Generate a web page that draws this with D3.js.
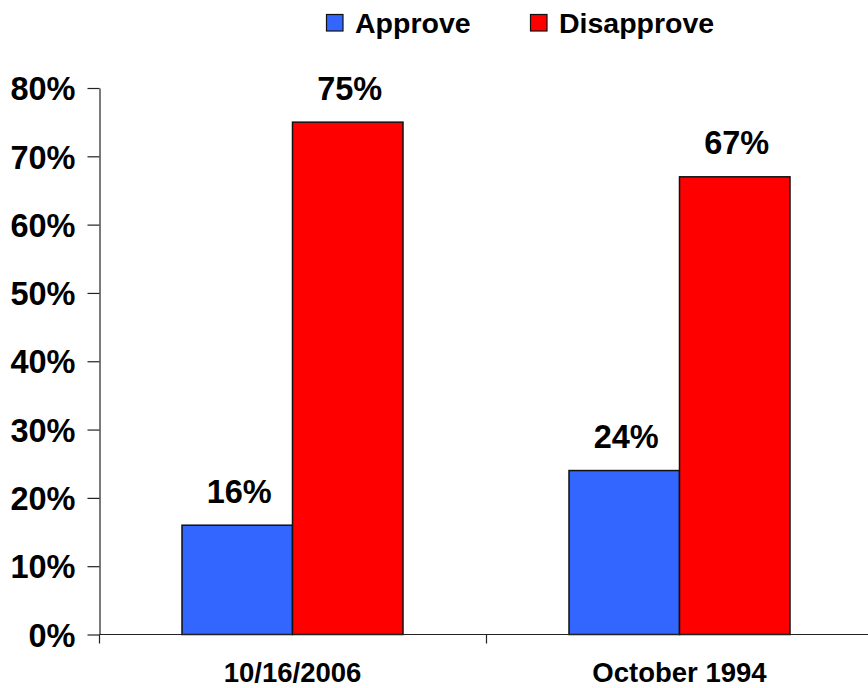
<!DOCTYPE html>
<html>
<head>
<meta charset="utf-8">
<script src="https://cdn.jsdelivr.net/npm/d3@7"></script>
<style>
  html, body { margin: 0; padding: 0; background: #fff; }
  svg { display: block; font-family: "Liberation Sans", Arial, sans-serif; font-weight: bold; }
</style>
</head>
<body>
<svg id="chart" width="868" height="688"></svg>
<script>
const categories = ["10/16/2006", "October 1994"];
const seriesNames = ["Approve", "Disapprove"];
const approve = [0.16, 0.24];
const disapprove = [0.75, 0.67];
const yTicks = [0, 0.1, 0.2, 0.3, 0.4, 0.5, 0.6, 0.7, 0.8];
const colors = ["#3366FF", "#FF0000"];

const svg = d3.select("#chart");
const x = d3.scaleBand().domain(categories).range([99, 873]).padding(0);
const y = d3.scaleLinear().domain([0, 0.8]).range([634.5, 88]);
const barW = 110.5;

const data = categories.map((c, i) => ({ cat: c, values: [approve[i], disapprove[i]] }));

// y axis
const yAxis = d3.axisLeft(y).tickValues(yTicks).tickFormat(d3.format(".0%")).tickSize(12).tickSizeOuter(0).tickPadding(12);
const gy = svg.append("g").attr("transform", "translate(99.5,0)").call(yAxis);
gy.selectAll("path, line").attr("stroke", "#222").attr("stroke-width", 1.2);
gy.selectAll("text").attr("font-size", 32.5).attr("font-weight", "bold").attr("fill", "#000")
  .attr("font-family", "'Liberation Sans', Arial, sans-serif").attr("dy", "0.36em");

// bars
const groups = svg.append("g").selectAll("g").data(data).join("g");
groups.selectAll("rect").data(d => d.values.map((v, j) => ({ v, j, cat: d.cat })))
  .join("rect")
  .attr("x", d => x(d.cat) + x.bandwidth() / 2 + (d.j - 1) * barW)
  .attr("width", barW)
  .attr("y", d => y(d.v))
  .attr("height", d => y(0) - y(d.v))
  .attr("fill", d => colors[d.j])
  .attr("stroke", "#111").attr("stroke-width", 1.5);

groups.selectAll("text.val").data(d => d.values.map((v, j) => ({ v, j, cat: d.cat })))
  .join("text").attr("class", "val")
  .attr("x", d => x(d.cat) + x.bandwidth() / 2 + (d.j - 0.5) * barW + 2)
  .attr("y", d => y(d.v) - 22.5)
  .attr("text-anchor", "middle")
  .attr("font-size", 32.5)
  .text(d => d3.format(".0%")(d.v));

// x axis
const gx = svg.append("g");
gx.append("line").attr("x1", 99.5).attr("x2", 868).attr("y1", y(0)).attr("y2", y(0))
  .attr("stroke", "#222").attr("stroke-width", 1.2);
const bounds = categories.map(c => x(c)).concat([x.range()[1]]);
gx.selectAll("line.tick").data(bounds).join("line").attr("class", "tick")
  .attr("x1", d => Math.round(d) + 0.5).attr("x2", d => Math.round(d) + 0.5)
  .attr("y1", y(0)).attr("y2", y(0) + 9)
  .attr("stroke", "#222").attr("stroke-width", 1.2);
gx.selectAll("text").data(categories).join("text")
  .attr("x", d => x(d) + x.bandwidth() / 2)
  .attr("y", 682)
  .attr("text-anchor", "middle")
  .attr("font-size", 27.5)
  .text(d => d);

// legend
const legendX = [326, 530];
const lg = svg.append("g").selectAll("g").data(seriesNames).join("g")
  .attr("transform", (d, i) => `translate(${legendX[i]},0)`);
lg.append("rect").attr("x", 0.5).attr("y", 14.5).attr("width", 16.5).attr("height", 16.5)
  .attr("fill", (d, i) => colors[i]).attr("stroke", "#111").attr("stroke-width", 1.2);
lg.append("text").attr("x", 29).attr("y", 33).attr("font-size", 28.5).text(d => d);
</script>
</body>
</html>
